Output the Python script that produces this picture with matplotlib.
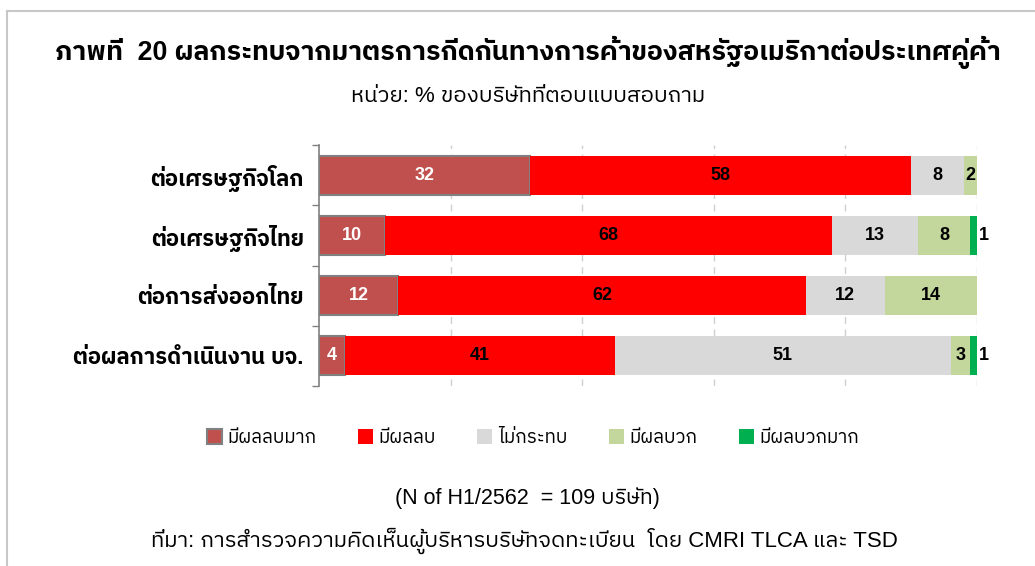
import matplotlib
matplotlib.use("Agg")
import matplotlib.pyplot as plt
import numpy as np
from matplotlib import font_manager
from matplotlib.ft2font import FT2Font
from matplotlib.patches import Patch
from matplotlib.lines import Line2D

# ข้อมูล (% ของบริษัทที่ตอบแบบสอบถาม)
categories = ["ต่อเศรษฐกิจโลก", "ต่อเศรษฐกิจไทย", "ต่อการส่งออกไทย", "ต่อผลการดำเนินงาน บจ."]
series_names = ["มีผลลบมาก", "มีผลลบ", "ไม่กระทบ", "มีผลบวก", "มีผลบวกมาก"]
very_negative = [32, 10, 12, 4]
negative = [58, 68, 62, 41]
no_effect = [8, 13, 12, 51]
positive = [2, 8, 14, 3]
very_positive = [0, 1, 0, 1]

title = "ภาพที่  20 ผลกระทบจากมาตรการกีดกันทางการค้าของสหรัฐอเมริกาต่อประเทศคู่ค้า"
subtitle = "หน่วย: % ของบริษัทที่ตอบแบบสอบถาม"
note = "(N of H1/2562  = 109 บริษัท)"
source = "ที่มา: การสำรวจความคิดเห็นผู้บริหารบริษัทจดทะเบียน  โดย CMRI TLCA และ TSD"

colors = ["#C0504D", "#FF0000", "#D9D9D9", "#C3D69B", "#00B050"]
label_colors = ["white", "black", "black", "black", "black"]


def thai_fonts():
    found = []
    for f in font_manager.fontManager.ttflist:
        try:
            if 0x0E01 in FT2Font(f.fname).get_charmap():
                found.append(f.name)
        except Exception:
            pass
    found = sorted(set(found), key=lambda n: ("Sans" not in n, n))
    return found


tf = thai_fonts()
plt.rcParams['font.family'] = ['Liberation Sans'] + tf + ['DejaVu Sans']

fig = plt.figure(figsize=(10.35, 5.66), dpi=100)
ax = fig.add_axes([0.3082, 0.318, 0.6357, 0.4258])

data = [very_negative, negative, no_effect, positive, very_positive]
y = np.arange(len(categories))
left = np.zeros(len(categories))
for i, vals in enumerate(data):
    vals = np.array(vals, dtype=float)
    ec = "#808080" if i == 0 else "none"
    lw = 1.5 if i == 0 else 0
    ax.barh(y, vals, left=left, height=0.65, color=colors[i], edgecolor=ec,
            linewidth=lw, zorder=3)
    for j, v in enumerate(vals):
        if v <= 0:
            continue
        if i == 4:
            ax.text(left[j] + v + 0.3, y[j], f"{int(v)}", ha="left", va="center",
                    fontsize=13, fontweight="bold", color="black", zorder=4)
        else:
            ax.text(left[j] + v / 2, y[j], f"{int(v)}", ha="center", va="center",
                    fontsize=13, fontweight="bold", color=label_colors[i], zorder=4)
    left += vals

ax.set_xlim(0, 100)
ax.set_ylim(len(categories) - 0.5, -0.5)
ax.set_xticks([20, 40, 60, 80, 100])
ax.tick_params(axis="x", length=0, labelbottom=False)
ax.xaxis.grid(True, linestyle=(0, (5, 4)), color="#D0D0D0", linewidth=1, zorder=0)
ax.set_yticks(y)
ax.set_yticklabels(categories, fontsize=15.8, fontweight="bold")
ax.set_yticks(np.arange(len(categories) + 1) - 0.5, minor=True)
ax.tick_params(axis="y", which="major", length=0, pad=11)
ax.tick_params(axis="y", which="minor", length=5, color="#808080", width=1)
for s in ["top", "right", "bottom"]:
    ax.spines[s].set_visible(False)
ax.spines["left"].set_color("#808080")
ax.spines["left"].set_linewidth(1.2)

handles = [Patch(facecolor=colors[i], edgecolor="#808080" if i == 0 else "none",
                 linewidth=1.5 if i == 0 else 0) for i in range(5)]
fig.legend(handles, series_names, loc="center", bbox_to_anchor=(0.515, 0.226), ncol=5,
           frameon=False, fontsize=13.5, handlelength=0.8, handleheight=0.8,
           handletextpad=0.3, columnspacing=2.2)

fig.text(0.51, 0.908, title, ha="center", va="center", fontsize=19.3, fontweight="bold")
fig.text(0.51, 0.829, subtitle, ha="center", va="center", fontsize=16)
fig.text(0.51, 0.12, note, ha="center", va="center", fontsize=15.5)
fig.text(0.507, 0.044, source, ha="center", va="center", fontsize=16)

# กรอบด้านบนและด้านซ้าย
fig.add_artist(Line2D([0.0065, 1.0], [0.981, 0.981], color="#C8C8C8", linewidth=1.5,
                      transform=fig.transFigure))
fig.add_artist(Line2D([0.0065, 0.0065], [0.0, 0.981], color="#C8C8C8", linewidth=1.5,
                      transform=fig.transFigure))

fig.savefig("out.png", dpi=100)
